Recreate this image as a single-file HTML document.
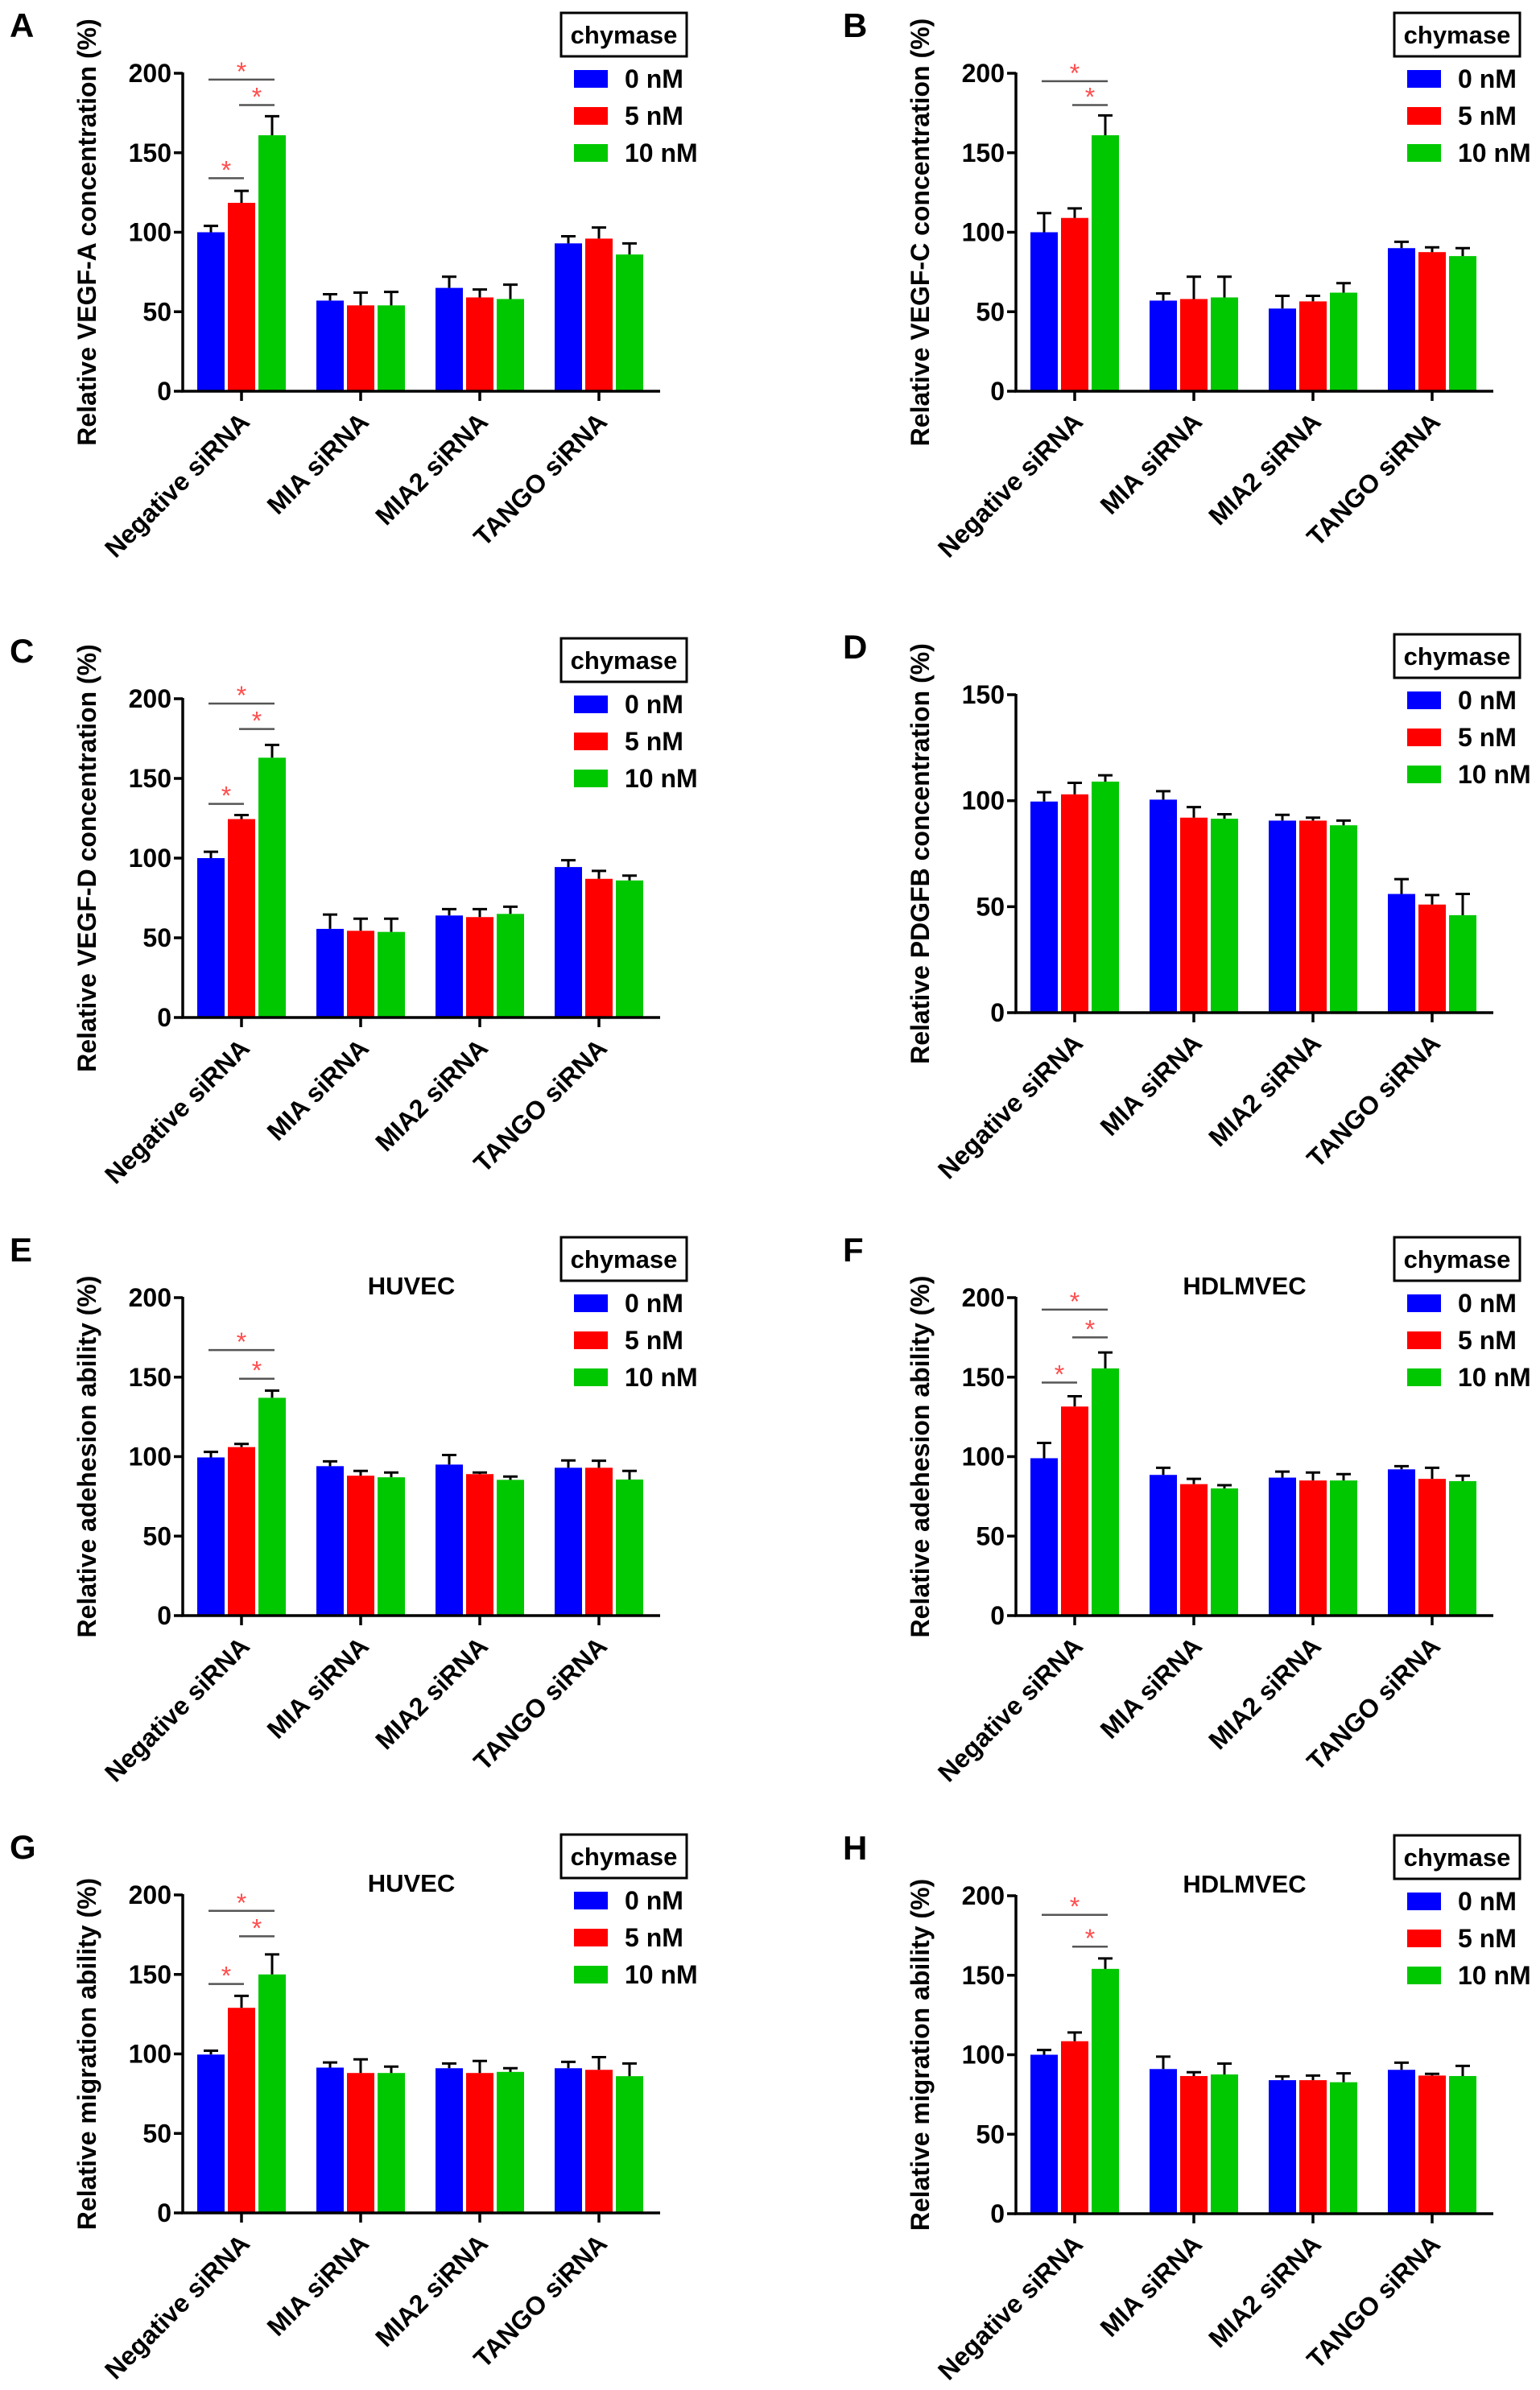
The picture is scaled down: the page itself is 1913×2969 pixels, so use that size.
<!DOCTYPE html>
<html><head><meta charset="utf-8"><style>
html,body{margin:0;padding:0;background:#fff;}
svg{display:block;font-family:"Liberation Sans",Arial,sans-serif;font-weight:bold;}
</style></head><body>
<svg id="fig" xmlns="http://www.w3.org/2000/svg" width="1913" height="2969" viewBox="0 0 1913 2969"></svg>
<script>
const categories = ['Negative siRNA','MIA siRNA','MIA2 siRNA','TANGO siRNA'];
const seriesNames = ['0 nM','5 nM','10 nM'];
const seriesColors = ['#0000ff','#ff0000','#00c800'];

// Panel A - VEGF-A
const vegfA_0 = [100,57,65,93];      const vegfA_0_err = [4,4,7,4.5];
const vegfA_5 = [118.5,54,59,96];    const vegfA_5_err = [7.5,8,5,7];
const vegfA_10 = [161,54,58,86];     const vegfA_10_err = [12,8.5,9,7];
const vegfA_sig = [[0,2,196],[1,2,180],[0,1,134]];
// Panel B - VEGF-C
const vegfC_0 = [100,57,52,90];      const vegfC_0_err = [12,4.5,8,4];
const vegfC_5 = [109,58,56.5,87.5];  const vegfC_5_err = [6,14,3.5,3];
const vegfC_10 = [161,59,62,85];     const vegfC_10_err = [12.5,13,6,5];
const vegfC_sig = [[0,2,195],[1,2,180]];
// Panel C - VEGF-D
const vegfD_0 = [100,55.6,64,94.4];  const vegfD_0_err = [4,9,4,4.3];
const vegfD_5 = [124.5,54.4,63,87];  const vegfD_5_err = [2.5,7.6,5,5];
const vegfD_10 = [163,53.7,65,86];   const vegfD_10_err = [8,8.3,4.5,3];
const vegfD_sig = [[0,2,197],[1,2,181],[0,1,134]];
// Panel D - PDGFB
const pdgfb_0 = [99.6,100.5,90.6,56]; const pdgfb_0_err = [4.4,4,2.7,7];
const pdgfb_5 = [103,92,90.6,51];     const pdgfb_5_err = [5.4,5,1.4,4.5];
const pdgfb_10 = [109,91.5,88.4,46];  const pdgfb_10_err = [3,2.1,2.2,10];
const pdgfb_sig = [];
// Panel E - adhesion HUVEC
const adhHuvec_0 = [99.5,94,95,93];     const adhHuvec_0_err = [3.5,3,6,4.6];
const adhHuvec_5 = [106,88,89,93];      const adhHuvec_5_err = [2,3,1,4.4];
const adhHuvec_10 = [137,87,85.4,85.6]; const adhHuvec_10_err = [4.5,3,2.1,5.4];
const adhHuvec_sig = [[0,2,167],[1,2,149]];
// Panel F - adhesion HDLMVEC
const adhHdl_0 = [99,88.5,86.8,92];     const adhHdl_0_err = [9.6,4.5,3.8,2];
const adhHdl_5 = [131.5,82.7,85,86];    const adhHdl_5_err = [6.5,3.3,5,7];
const adhHdl_10 = [155.5,80,85,84.6];   const adhHdl_10_err = [10,2,4,3.4];
const adhHdl_sig = [[0,2,192.5],[1,2,175],[0,1,146.6]];
// Panel G - migration HUVEC
const migHuvec_0 = [99.6,91.4,91,91];   const migHuvec_0_err = [2.4,3.2,3,4];
const migHuvec_5 = [129,88,88,90];      const migHuvec_5_err = [7.5,8.6,7.6,8];
const migHuvec_10 = [150,88,88.7,86];   const migHuvec_10_err = [12.6,4,2.3,8];
const migHuvec_sig = [[0,2,190],[1,2,174],[0,1,144]];
// Panel H - migration HDLMVEC
const migHdl_0 = [100,91,84,90.5];      const migHdl_0_err = [3,7.8,2.4,4.5];
const migHdl_5 = [108.5,86.6,84,86.9];  const migHdl_5_err = [5.5,2.4,2.9,1.1];
const migHdl_10 = [154,87.6,82.7,86.6]; const migHdl_10_err = [6.6,6.8,5.6,6.4];
const migHdl_sig = [[0,2,188],[1,2,168]];

const ticks200 = [0,50,100,150,200];
const ticks150 = [0,50,100,150];

const panels = [
 {id:'a',letter:'A',ax:227,top:91,zero:486,ymax:200,ticks:ticks200,ylabel:'Relative VEGF-A concentration (%)',title:'',vals:[vegfA_0,vegfA_5,vegfA_10],errs:[vegfA_0_err,vegfA_5_err,vegfA_10_err],sig:vegfA_sig},
 {id:'b',letter:'B',ax:1262,top:91,zero:486,ymax:200,ticks:ticks200,ylabel:'Relative VEGF-C concentration (%)',title:'',vals:[vegfC_0,vegfC_5,vegfC_10],errs:[vegfC_0_err,vegfC_5_err,vegfC_10_err],sig:vegfC_sig},
 {id:'c',letter:'C',ax:227,top:868,zero:1264,ymax:200,ticks:ticks200,ylabel:'Relative VEGF-D concentration (%)',title:'',vals:[vegfD_0,vegfD_5,vegfD_10],errs:[vegfD_0_err,vegfD_5_err,vegfD_10_err],sig:vegfD_sig},
 {id:'d',letter:'D',ax:1262,top:863,zero:1258,ymax:150,ticks:ticks150,ylabel:'Relative PDGFB concentration (%)',title:'',vals:[pdgfb_0,pdgfb_5,pdgfb_10],errs:[pdgfb_0_err,pdgfb_5_err,pdgfb_10_err],sig:pdgfb_sig},
 {id:'e',letter:'E',ax:227,top:1612,zero:2007,ymax:200,ticks:ticks200,ylabel:'Relative adehesion ability (%)',title:'HUVEC',vals:[adhHuvec_0,adhHuvec_5,adhHuvec_10],errs:[adhHuvec_0_err,adhHuvec_5_err,adhHuvec_10_err],sig:adhHuvec_sig},
 {id:'f',letter:'F',ax:1262,top:1612,zero:2007,ymax:200,ticks:ticks200,ylabel:'Relative adehesion ability (%)',title:'HDLMVEC',vals:[adhHdl_0,adhHdl_5,adhHdl_10],errs:[adhHdl_0_err,adhHdl_5_err,adhHdl_10_err],sig:adhHdl_sig},
 {id:'g',letter:'G',ax:227,top:2354,zero:2749,ymax:200,ticks:ticks200,ylabel:'Relative migration ability (%)',title:'HUVEC',vals:[migHuvec_0,migHuvec_5,migHuvec_10],errs:[migHuvec_0_err,migHuvec_5_err,migHuvec_10_err],sig:migHuvec_sig},
 {id:'h',letter:'H',ax:1262,top:2355,zero:2750,ymax:200,ticks:ticks200,ylabel:'Relative migration ability (%)',title:'HDLMVEC',vals:[migHdl_0,migHdl_5,migHdl_10],errs:[migHdl_0_err,migHdl_5_err,migHdl_10_err],sig:migHdl_sig}
];

const NS='http://www.w3.org/2000/svg';
const svg=document.getElementById('fig');
function mk(tag,parent,attrs){const e=document.createElementNS(NS,tag);for(const k in attrs)e.setAttribute(k,attrs[k]);parent.appendChild(e);return e;}

panels.forEach(p=>{
  const g=mk('g',svg,{});
  
  
  const ys=v=>p.zero-(v/p.ymax)*(p.zero-p.top);
  const gx=i=>p.ax+73+i*148;
  const bx=(i,s)=>gx(i)+(s-1)*38;

  const letter=mk('text',g,{x:p.ax-215,y:p.top-45,'font-size':42,fill:'#000'});
  letter.textContent=p.letter;
  
  

  if(p.title){
    const t=mk('text',g,{x:p.ax+284,y:p.top-4,'font-size':31,'text-anchor':'middle',fill:'#000'});
    t.textContent=p.title;
    
    
  }

  // bars
  p.vals.forEach((arr,s)=>{
    arr.forEach((v,i)=>{
      const r=mk('rect',g,{x:bx(i,s)-17,y:ys(v),width:34,height:p.zero-ys(v),fill:seriesColors[s]});
      
      
      const top=v+p.errs[s][i];
      const e=mk('path',g,{d:`M${bx(i,s)},${ys(v)}V${ys(top)}M${bx(i,s)-9},${ys(top)}H${bx(i,s)+9}`,stroke:'#000','stroke-width':3,fill:'none'});
      
      
    });
  });

  // axes
  const axes=mk('path',g,{d:`M${p.ax},${p.top-1}V${p.zero}H${p.ax+593}`,stroke:'#000','stroke-width':3.5,fill:'none'});
  
  
  p.ticks.forEach(t=>{
    mk('line',g,{x1:p.ax-11,x2:p.ax,y1:ys(t),y2:ys(t),stroke:'#000','stroke-width':3.5});
    const tl=mk('text',g,{x:p.ax-14,y:ys(t)+11,'font-size':32,'text-anchor':'end',fill:'#000'});
    tl.textContent=t;
    
    
  });
  categories.forEach((c,i)=>{
    mk('line',g,{x1:gx(i),x2:gx(i),y1:p.zero,y2:p.zero+12,stroke:'#000','stroke-width':3.5});
    const cx=gx(i)+12, cy=p.zero+40;
    const cl=mk('text',g,{x:cx,y:cy,'font-size':32,'text-anchor':'end',fill:'#000',transform:`rotate(-45 ${cx} ${cy})`});
    cl.textContent=c;
    
    
  });

  const midY=(p.top+p.zero)/2, lx=p.ax-108;
  const yl=mk('text',g,{x:lx,y:midY,'font-size':32,'text-anchor':'middle',fill:'#000',transform:`rotate(-90 ${lx} ${midY})`});
  yl.textContent=p.ylabel;
  
  

  // significance
  p.sig.forEach(sg=>{
    const x1=bx(0,sg[0])-3, x2=bx(0,sg[1])+3, y=ys(sg[2]);
    const ln=mk('line',g,{x1:x1,x2:x2,y1:y,y2:y,stroke:'#555','stroke-width':2.5});
    
    
    const st=mk('text',g,{x:(x1+x2)/2,y:y+1,'font-size':32,'text-anchor':'middle',fill:'#ff4d4d','font-weight':'normal'});
    st.textContent='*';
    
    
  });

  // legend
  const lg=mk('g',g,{});
  
  
  mk('rect',lg,{x:p.ax+470,y:p.top-75,width:156,height:54,fill:'#fff',stroke:'#000','stroke-width':3});
  const lt=mk('text',lg,{x:p.ax+548,y:p.top-37,'font-size':31,'text-anchor':'middle',fill:'#000'});
  lt.textContent='chymase';
  
  
  seriesNames.forEach((n,s)=>{
    const cy=p.top+7+s*46;
    const sw=mk('rect',lg,{x:p.ax+486,y:cy-11,width:42,height:22,fill:seriesColors[s]});
    
    
    const tx=mk('text',lg,{x:p.ax+549,y:cy+11,'font-size':32,fill:'#000'});
    tx.textContent=n;
    
    
  });
});
</script>
</body></html>
